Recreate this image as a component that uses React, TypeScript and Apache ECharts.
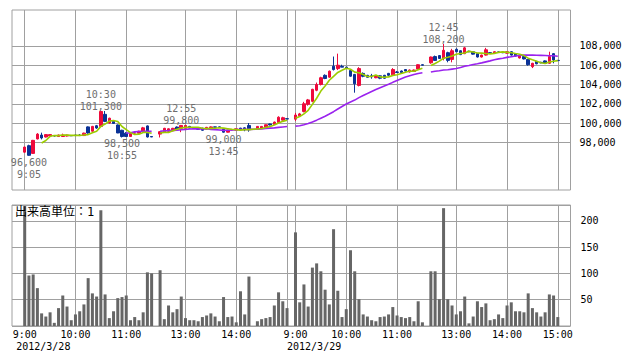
import React, { useEffect, useRef } from 'react';
import * as echarts from 'echarts';

// ---------- data ----------
const DATES = ['2012/3/28', '2012/3/29'];
const SESSION_STARTS = ['9:00', '12:30'];
const BARS_PER_SESSION = 31;
const BAR_MINUTES = 5;
const GRID_HOURS = ['9:00', '10:00', '11:00', '13:00', '14:00', '15:00'];
const PRICE_TICKS = [98000, 100000, 102000, 104000, 106000, 108000];
const VOLUME_UNIT_TEXT = '出来高単位：1';

// 2012/3/28 (9:00-11:30, 12:30-15:00, 5-minute bars)
const D1_OPEN = [
  96980, 97650, 96850, 98350, 98750, 98550, 98650, 98700, 98600, 98600, 98650, 98700, 98750, 98750, 98700, 99600,
  99150, 99720, 99650, 100900, 100000, 100170, 99800, 99250, 98950, 98600, 98950, 98950, 99150, 99700, 98600,
  98850, 99050, 99150, 99200, 99580, 99450, 99450, 99650, 99500, 99450, 99470, 99370, 99400, 99600, 99600, 99370,
  99050, 99300, 99260, 99470, 99500, 99750, null, 99400, 99480, 99580, 99900, 99850, 100050, 100300, 100450,
];
const D1_HIGH = [
  97550, 97750, 98250, 98950, 99000, 98850, 98850, 98750, 98800, 98900, 98800, 98750, 98800, 98850, 99000, 99650,
  99700, 99800, 101300, 101250, 100550, 100250, 99850, 99300, 99050, 98950, 99050, 99200, 99600, 99750, 98650,
  99150, 99500, 99450, 99500, 99650, 99800, 99780, 99700, 99550, 99500, 99500, 99600, 99650, 99620, 99620, 99400,
  99300, 99350, 99420, 99500, 99550, 100000, null, 99680, 99680, 99850, 99950, 100150, 100700, 100650, 100480,
];
const D1_LOW = [
  96900, 96600, 96800, 98300, 98300, 98500, 98600, 98600, 98550, 98550, 98600, 98650, 98650, 98650, 98650, 98900,
  99100, 99400, 99600, 100100, 99950, 99900, 98950, 98500, 98550, 98550, 98900, 98900, 99100, 98500, 98550,
  98500, 99000, 99100, 99150, 99350, 99050, 99400, 99450, 99450, 99300, 99200, 99350, 99380, 99550, 99550, 99000,
  99020, 99250, 99230, 99280, 99150, 99100, null, 99380, 99450, 99550, 99750, 99800, 100000, 100250, 100400,
];
const D1_CLOSE = [
  97500, 96650, 98200, 98850, 98450, 98800, 98800, 98650, 98750, 98750, 98750, 98680, 98700, 98700, 98950, 98970,
  99650, 99480, 101200, 100170, 100500, 99950, 98970, 98600, 98600, 98900, 98980, 99150, 99500, 98550, 98550,
  99100, 99450, 99400, 99450, 99380, 99750, 99750, 99480, 99480, 99350, 99250, 99550, 99600, 99570, 99570, 99050,
  99260, 99300, 99400, 99300, 99300, 99300, null, 99650, 99650, 99820, 99800, 100100, 100600, 100550, 100420,
];
const D1_VOLUME = [
  228, 96, 98, 72, 24, 18, 26, 6, 34, 58, 37, 11, 22, 28, 41, 91, 62, 56, 220, 60, 15, 28, 53, 55, 58, 11, 17, 11,
  26, 102, 100,
  106, 13, 39, 26, 32, 56, 15, 11, 11, 9, 17, 20, 24, 18, 9, 55, 17, 18, 7, 66, 22, 94, null, 9, 13, 15, 17, 39, 64,
  47, 34,
];

// 2012/3/29
const D2_OPEN = [
  100400, 100750, 101200, 101950, 102250, 103400, 104000, 104950, 104760, 105900, 105650, 105880, 105800, 105450,
  105040, 103900, 105150, 104950, 104900, 104700, 104900, 104950, 105150, 105000, 105300, 105400, 105550, 105300,
  105350, 105600, 106050,
  106250, 106900, 107000, 106700, 107300, 106600, 107650, 107500, 107200, 107450, 107400, 107200, 106850, 107050,
  107300, 107250, 107380, 107350, 107250, 107400, 107200, 106750, 106900, 106600, 105850, 106400, 106300, 106450,
  106200, 107200, 106500,
];
const D2_HIGH = [
  101050, 101050, 102200, 102500, 103550, 104200, 104800, 105050, 105450, 106900, 107200, 106050, 105850, 105550,
  105100, 105800, 105250, 105000, 105100, 104950, 104950, 105000, 105200, 105700, 105400, 105450, 105600, 105550,
  105550, 106100, 106080,
  106900, 107000, 107050, 108200, 107400, 107700, 107750, 107550, 107900, 107500, 107450, 107250, 107100, 107800,
  107350, 107450, 107420, 107400, 107450, 107450, 107250, 107000, 106950, 106650, 106250, 106450, 106350, 106500,
  107400, 107250, 106520,
];
const D2_LOW = [
  100200, 100700, 101100, 101800, 102150, 103300, 103900, 104550, 104700, 105450, 105500, 105800, 105650, 104800,
  103150, 103800, 104750, 104700, 104600, 104650, 104550, 104600, 104900, 104950, 105200, 105200, 105350, 105250,
  105300, 105550, 106000,
  106150, 106450, 106650, 106500, 106300, 106300, 107350, 107050, 107150, 107350, 107100, 106800, 106800, 107000,
  107200, 107200, 107300, 107250, 107200, 107000, 106900, 106700, 106600, 105950, 105700, 106100, 106200, 106150,
  106150, 106200, 106450,
];
const D2_CLOSE = [
  100830, 100950, 102000, 102400, 103500, 104000, 104700, 104620, 105380, 105550, 106000, 105800, 105700, 104860,
  104070, 105650, 104850, 104750, 104800, 104900, 104650, 104650, 104950, 105550, 105250, 105250, 105400, 105500,
  105500, 106050, 106000,
  106850, 106500, 106700, 107550, 106500, 107500, 107400, 107100, 107800, 107400, 107150, 106850, 107050, 107600,
  107250, 107400, 107350, 107300, 107400, 107050, 106950, 106950, 106650, 106050, 106200, 106150, 106250, 106200,
  106900, 106550, 106480,
];
const D2_VOLUME = [
  178, 45, 79, 37, 111, 119, 104, 69, 41, 184, 67, 17, 32, 144, 104, 51, 22, 18, 11, 9, 17, 18, 22, 36, 20, 17, 15,
  17, 9, 47, 7,
  104, 104, 51, 224, 51, 39, 22, 28, 56, 5, 18, 47, 36, 43, 11, 13, 22, 15, 39, 45, 28, 28, 26, 62, 34, 26, 18, 26,
  60, 58, 17,
];

const MA_SHORT = 5;
const MA_LONG = 25;

const ANNOTATIONS = [
  { date: '2012/3/28', time: '9:05', kind: 'low' },
  { date: '2012/3/28', time: '10:30', kind: 'high' },
  { date: '2012/3/28', time: '10:55', kind: 'low' },
  { date: '2012/3/28', time: '12:55', kind: 'high' },
  { date: '2012/3/28', time: '13:45', kind: 'low' },
  { date: '2012/3/29', time: '12:45', kind: 'high' },
];

// ---------- layout of the category axis ----------
const LEAD_SLOTS = 3;
const TRAIL_SLOTS = 3;
const DATE_LABEL_SHIFT = 2;

const DAYS = [
  { date: DATES[0], open: D1_OPEN, high: D1_HIGH, low: D1_LOW, close: D1_CLOSE, volume: D1_VOLUME },
  { date: DATES[1], open: D2_OPEN, high: D2_HIGH, low: D2_LOW, close: D2_CLOSE, volume: D2_VOLUME },
];

function sessionTimes(start: string, n: number): string[] {
  const [h, m] = start.split(':').map(Number);
  const out: string[] = [];
  for (let k = 0; k < n; k++) {
    const t = h * 60 + m + k * BAR_MINUTES;
    out.push(`${Math.floor(t / 60)}:${String(t % 60).padStart(2, '0')}`);
  }
  return out;
}

type Slot = {
  key: string;
  date?: string;
  time?: string;
  o?: number | null;
  h?: number | null;
  l?: number | null;
  c?: number | null;
  v?: number | null;
};

const fmt = (v: number) => v.toLocaleString('en-US');
const MONO = "'DejaVu Sans Mono', 'Liberation Mono', monospace";

function buildOption() {
  const slots: Slot[] = [];
  let g = 0;
  for (let i = 0; i < LEAD_SLOTS; i++) slots.push({ key: `pad${g++}` });
  const dayFirstIndex: number[] = [];
  DAYS.forEach((day, d) => {
    let idx = 0;
    SESSION_STARTS.forEach((st, s) => {
      sessionTimes(st, BARS_PER_SESSION).forEach((time) => {
        if (idx === 0) dayFirstIndex.push(slots.length);
        slots.push({
          key: `${day.date} ${time}`,
          date: day.date,
          time,
          o: day.open[idx],
          h: day.high[idx],
          l: day.low[idx],
          c: day.close[idx],
          v: day.volume[idx],
        });
        idx++;
      });
      const last = d === DAYS.length - 1 && s === SESSION_STARTS.length - 1;
      if (!last) slots.push({ key: `pad${g++}` });
    });
  });
  for (let i = 0; i < TRAIL_SLOTS; i++) slots.push({ key: `pad${g++}` });

  const keys = slots.map((s) => s.key);
  const lastDate = DATES[DATES.length - 1];
  const hourSet = new Set(slots.filter((s) => s.time && GRID_HOURS.includes(s.time)).map((s) => s.key));
  const labelSet = new Set(
    slots
      .filter((s) => s.time && GRID_HOURS.includes(s.time) && !(s.time === '15:00' && s.date !== lastDate))
      .map((s) => s.key)
  );
  const dateLabelMap: Record<string, string> = {};
  dayFirstIndex.forEach((fi, d) => {
    dateLabelMap[keys[fi - DATE_LABEL_SHIFT]] = DAYS[d].date;
  });

  const candleData = slots.map((s) =>
    s.c != null ? [s.o, s.c, s.l, s.h] : ['-', '-', '-', '-']
  );
  const volData = slots.map((s) => (s.v != null ? s.v : '-'));

  const candles = slots.filter((s) => s.c != null);
  const maLine = (n: number) => {
    const out: any[] = [];
    slots.forEach((s) => {
      if (!s.time) {
        out.push([s.key, '-']);
        return;
      }
      if (s.c == null) return;
      const k = candles.indexOf(s);
      if (k < n - 1) return;
      let sum = 0;
      for (let j = k - n + 1; j <= k; j++) sum += candles[j].c as number;
      out.push([s.key, Math.round(sum / n)]);
    });
    return out;
  };

  const markPoints = ANNOTATIONS.map((a) => {
    const s = slots.find((x) => x.date === a.date && x.time === a.time)!;
    const price = (a.kind === 'high' ? s.h : s.l) as number;
    const text = a.kind === 'high' ? `${a.time}\n${fmt(price)}` : `${fmt(price)}\n${a.time}`;
    return {
      coord: [s.key, price],
      label: {
        position: a.kind === 'high' ? 'top' : 'bottom',
        distance: 0,
        offset: a.kind === 'high' ? [0, 2] : [0, 0],
        formatter: text,
      },
    };
  });

  const gridLine = { color: '#a0a0a0', width: 1 };
  const hourInterval = (_i: number, v: string) => hourSet.has(v);

  const xBase = {
    type: 'category',
    data: keys,
    boundaryGap: false,
    axisLine: { show: false },
    axisTick: { show: false },
  };

  return {
    animation: false,
    backgroundColor: '#fff',
    title: {
      text: VOLUME_UNIT_TEXT,
      left: 15,
      top: 206,
      padding: 0,
      textStyle: {
        fontSize: 12,
        fontWeight: 'normal',
        color: '#000',
        fontFamily: "'DejaVu Sans Mono', 'Noto Sans CJK JP', sans-serif",
      },
    },
    grid: [
      { left: 12, top: 10, width: 558.5, height: 180, show: true, borderColor: '#a0a0a0', borderWidth: 1 },
      { left: 12, top: 205, width: 558.5, height: 121, show: true, borderColor: '#a0a0a0', borderWidth: 1 },
    ],
    xAxis: [
      {
        ...xBase,
        gridIndex: 0,
        position: 'bottom',
        axisLabel: { show: false },
        splitLine: { show: true, interval: hourInterval, lineStyle: gridLine },
      },
      {
        ...xBase,
        gridIndex: 1,
        position: 'bottom',
        axisLabel: {
          show: true,
          interval: (_i: number, v: string) => labelSet.has(v),
          formatter: (v: string) => v.split(' ')[1] || '',
          color: '#000',
          fontSize: 10,
          fontFamily: MONO,
          margin: 3,
        },
        splitLine: { show: true, interval: hourInterval, lineStyle: gridLine },
      },
      {
        ...xBase,
        gridIndex: 1,
        position: 'bottom',
        offset: 12,
        axisLabel: {
          show: true,
          interval: (_i: number, v: string) => v in dateLabelMap,
          formatter: (v: string) => dateLabelMap[v] || '',
          align: 'left',
          color: '#000',
          fontSize: 10,
          fontFamily: MONO,
          margin: 3,
        },
        splitLine: { show: false },
      },
    ],
    yAxis: [
      {
        type: 'value',
        gridIndex: 0,
        min: 93050,
        max: 111730,
        axisLine: { show: false },
        axisTick: { show: false },
        axisLabel: { show: false },
        splitLine: { show: false },
      },
      {
        type: 'value',
        gridIndex: 1,
        position: 'right',
        min: 0,
        max: 230,
        interval: 50,
        axisLine: { show: false },
        axisTick: { show: false },
        axisLabel: {
          formatter: (v: number) => (v > 0 && v % 50 === 0 ? String(v) : ''),
          color: '#000',
          fontSize: 10,
          fontFamily: MONO,
          margin: 10,
        },
        splitLine: { show: true, lineStyle: gridLine },
      },
    ],
    series: [
      {
        type: 'candlestick',
        xAxisIndex: 0,
        yAxisIndex: 0,
        data: candleData,
        barWidth: 3,
        itemStyle: {
          color: '#ee0a3c',
          color0: '#0a3296',
          borderColor: '#ee0a3c',
          borderColor0: '#0a3296',
          borderWidth: 1,
        },
        markLine: {
          silent: true,
          z: 1,
          symbol: ['none', 'none'],
          lineStyle: { color: '#a0a0a0', width: 1, type: 'solid' },
          label: {
            show: true,
            position: 'end',
            distance: 9,
            formatter: (p: any) => fmt(Number(p.value)),
            color: '#000',
            fontSize: 10,
            fontFamily: MONO,
          },
          data: PRICE_TICKS.map((v) => ({ yAxis: v })),
        },
        markPoint: {
          silent: true,
          symbol: 'circle',
          symbolSize: 1,
          itemStyle: { color: 'rgba(0,0,0,0)' },
          label: {
            show: true,
            color: '#6e6e6e',
            fontSize: 10,
            fontFamily: MONO,
            lineHeight: 12,
          },
          data: markPoints,
        },
      },
      {
        type: 'line',
        xAxisIndex: 0,
        yAxisIndex: 0,
        data: maLine(MA_LONG),
        showSymbol: false,
        connectNulls: false,
        lineStyle: { color: '#9a22ee', width: 1.6 },
        z: 3,
      },
      {
        type: 'line',
        xAxisIndex: 0,
        yAxisIndex: 0,
        data: maLine(MA_SHORT),
        showSymbol: false,
        connectNulls: false,
        lineStyle: { color: '#9ccc00', width: 1.6 },
        z: 4,
      },
      {
        type: 'bar',
        xAxisIndex: 1,
        yAxisIndex: 1,
        data: volData,
        barWidth: 3,
        itemStyle: { color: '#666666' },
      },
    ],
  };
}

export default function App() {
  const ref = useRef<HTMLDivElement>(null);
  useEffect(() => {
    if (!ref.current) return;
    const chart = echarts.init(ref.current, null, { renderer: 'svg' });
    chart.setOption(buildOption() as any);
    return () => chart.dispose();
  }, []);
  return (
    <div
      ref={ref}
      style={{ position: 'absolute', left: 0, top: 0, width: 638, height: 362, background: '#fff' }}
    />
  );
}
